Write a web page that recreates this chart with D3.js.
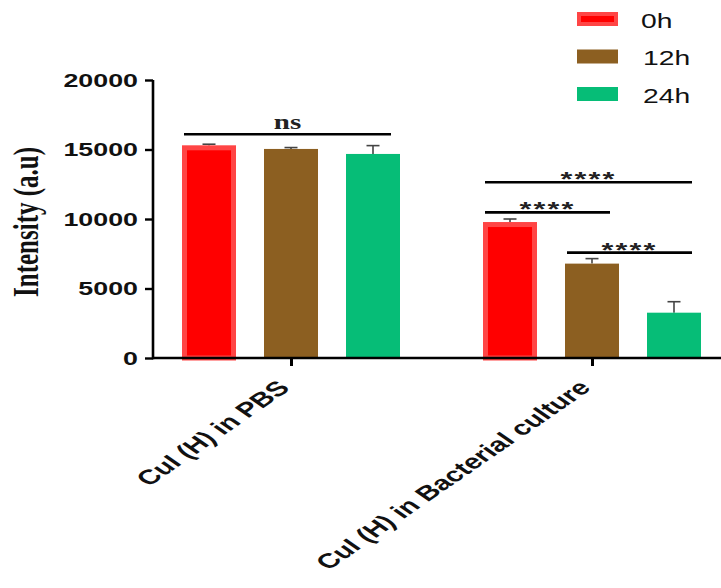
<!DOCTYPE html>
<html>
<head>
<meta charset="utf-8">
<script src="https://cdn.jsdelivr.net/npm/d3@7"></script>
<style>
  html, body { margin: 0; padding: 0; background: #fff; }
  svg { display: block; }
</style>
</head>
<body>
<svg id="chart" width="721" height="588"></svg>
<script>
// Fluorescence intensity of CuI (H) over time
const groups = ["CuI (H) in PBS", "CuI (H) in Bacterial culture"];
const series = ["0h", "12h", "24h"];
const colors = ["#ff0000", "#8c5f21", "#06bd77"];
const means = [
  [15280, 15040, 14680],   // PBS
  [9760, 6790, 3260]       // Bacterial culture
];
const errors = [
  [100, 100, 600],
  [240, 360, 790]
];
const yTicks = [0, 5000, 10000, 15000, 20000];
// significance bars: group, first series, last series, height (a.u), label
const brackets = [
  { g: 0, a: 0, b: 2, y: 16100, label: "ns" },
  { g: 1, a: 0, b: 2, y: 12640, label: "****" },
  { g: 1, a: 0, b: 1, y: 10480, label: "****" },
  { g: 1, a: 1, b: 2, y: 7580, label: "****" }
];

const SX = 1.45; // horizontal stretch applied to the text
const svg = d3.select("#chart");
const axisX = 153, baseY = 358, topY = 80;

const y = d3.scaleLinear().domain([0, 20000]).range([baseY, topY]);
const x0 = d3.scalePoint().domain(groups).range([291, 592]);
const x1 = d3.scaleBand().domain(series).range([-109, 109]).paddingInner(28 / 82).paddingOuter(0);
const bw = x1.bandwidth();

const sans = "Arial, 'Liberation Sans', sans-serif";
const serif = "'Times New Roman', 'Liberation Serif', serif";

// bars
groups.forEach((g, gi) => {
  series.forEach((s, si) => {
    const left = x0(g) + x1(s);
    const v = means[gi][si];
    const e = errors[gi][si];
    const cx = left + bw / 2;
    // error bar (upper only)
    svg.append("line")
      .attr("x1", cx).attr("x2", cx)
      .attr("y1", y(v)).attr("y2", y(v + e))
      .attr("stroke", "#444").attr("stroke-width", 1.6);
    svg.append("line")
      .attr("x1", cx - 6.5).attr("x2", cx + 6.5)
      .attr("y1", y(v + e)).attr("y2", y(v + e))
      .attr("stroke", "#444").attr("stroke-width", 1.6);
    if (si === 0) {
      svg.append("rect")
        .attr("x", left + 2.5).attr("y", y(v) + 2.2)
        .attr("width", bw - 5).attr("height", baseY - y(v) - 2.2)
        .attr("fill", colors[si])
        .attr("stroke", "#ff4545").attr("stroke-width", 5);
    } else {
      svg.append("rect")
        .attr("x", left).attr("y", y(v))
        .attr("width", bw).attr("height", baseY - y(v))
        .attr("fill", colors[si]);
    }
  });
});

// axes
const yAxis = d3.axisLeft(y).tickValues(yTicks).tickSize(8).tickFormat(d3.format("d"));
const yg = svg.append("g").attr("transform", `translate(${axisX},0)`).call(yAxis);
yg.select(".domain").attr("stroke", "#000").attr("stroke-width", 2.6)
  .attr("d", `M0,${topY}V${baseY + 1.3}`);
yg.selectAll(".tick line").attr("stroke", "#000").attr("stroke-width", 2.4);
yg.selectAll(".tick text").remove();
yTicks.forEach(t => {
  svg.append("text")
    .attr("transform", `translate(${axisX - 15},${y(t) + 6.6}) scale(${SX},1)`)
    .attr("text-anchor", "end")
    .attr("font-family", sans).attr("font-weight", "bold").attr("font-size", 18.5)
    .attr("fill", "#111")
    .text(t);
});

const xAxis = d3.axisBottom(x0).tickSize(8).tickFormat("");
const xg = svg.append("g").attr("transform", `translate(0,${baseY})`).call(xAxis);
xg.select(".domain").attr("stroke", "#000").attr("stroke-width", 2.6)
  .attr("d", `M${axisX},0H721`);
xg.selectAll(".tick line").attr("stroke", "#000").attr("stroke-width", 3);

groups.forEach(g => {
  svg.append("text")
    .attr("transform", `translate(${x0(g) + 0},${baseY + 31}) scale(${SX},1) rotate(-45)`)
    .attr("text-anchor", "end")
    .attr("font-family", sans).attr("font-weight", "bold").attr("font-size", 20.5)
    .attr("fill", "#111")
    .text(g);
});

// y-axis title
svg.append("text")
  .attr("transform", `translate(37.5,222) scale(${SX},1) rotate(-90)`)
  .attr("text-anchor", "middle")
  .attr("font-family", serif).attr("font-weight", "bold").attr("font-size", 25)
  .attr("fill", "#111")
  .text("Intensity (a.u)");

// significance bars
brackets.forEach(b => {
  const xa = x0(groups[b.g]) + x1(series[b.a]) + 2;
  const xb = x0(groups[b.g]) + x1(series[b.b]) + bw - 9;
  svg.append("line")
    .attr("x1", xa).attr("x2", xb)
    .attr("y1", y(b.y)).attr("y2", y(b.y))
    .attr("stroke", "#000").attr("stroke-width", 2.6);
  const isNs = b.label === "ns";
  svg.append("text")
    .attr("transform", `translate(${(xa + xb) / 2},${y(b.y) + (isNs ? -5 : 4)}) scale(${SX},1)`)
    .attr("text-anchor", "middle")
    .attr("font-family", isNs ? serif : sans).attr("font-weight", "bold")
    .attr("font-size", isNs ? 20 : 21)
    .attr("letter-spacing", isNs ? 0 : 1.5)
    .attr("fill", "#222")
    .text(b.label);
});

// legend
series.forEach((s, i) => {
  const ly = 12 + i * 37.5;
  if (i === 0) {
    svg.append("rect").attr("x", 579).attr("y", ly + 2)
      .attr("width", 37).attr("height", 10)
      .attr("fill", colors[i]).attr("stroke", "#ff4545").attr("stroke-width", 4);
  } else {
    svg.append("rect").attr("x", 577).attr("y", ly)
      .attr("width", 41).attr("height", 14).attr("fill", colors[i]);
  }
  svg.append("text")
    .attr("transform", `translate(${i === 0 ? 641 : 643},${ly + 15.5}) scale(${SX},1)`)
    .attr("font-family", sans).attr("font-size", 19.5)
    .attr("fill", "#111")
    .text(s);
});
</script>
</body>
</html>
